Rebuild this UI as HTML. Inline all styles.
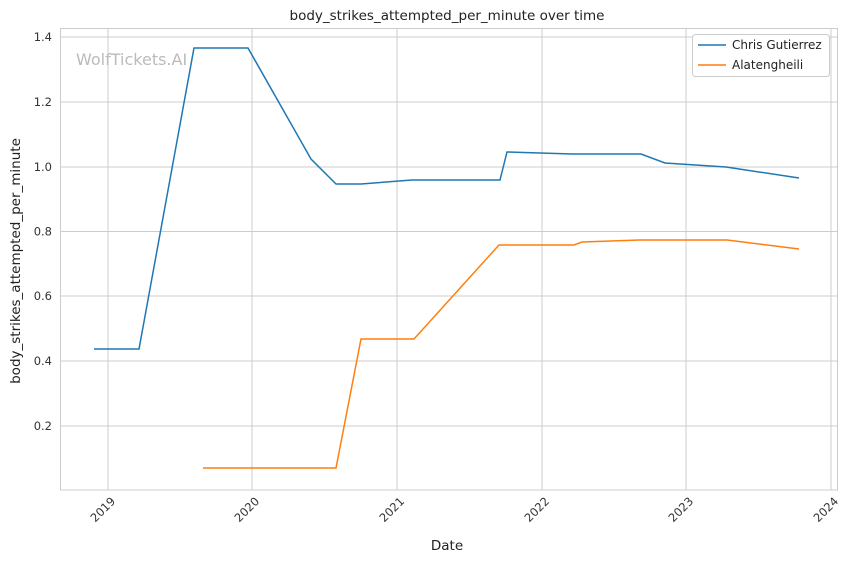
<!DOCTYPE html>
<html><head><meta charset="utf-8"><style>
html,body{margin:0;padding:0;background:#fff;}
svg{display:block;font-family:"DejaVu Sans","Liberation Sans",sans-serif;}
</style></head><body>
<svg width="856" height="561" viewBox="0 0 856 561" xmlns="http://www.w3.org/2000/svg">
<rect width="856" height="561" fill="#fff"/>
<g stroke="#cccccc" stroke-width="1">
<line x1="108" y1="28" x2="108" y2="490"/>
<line x1="252" y1="28" x2="252" y2="490"/>
<line x1="397" y1="28" x2="397" y2="490"/>
<line x1="542" y1="28" x2="542" y2="490"/>
<line x1="686" y1="28" x2="686" y2="490"/>
<line x1="831" y1="28" x2="831" y2="490"/>
<line x1="60" y1="37" x2="838" y2="37"/>
<line x1="60" y1="102" x2="838" y2="102"/>
<line x1="60" y1="167" x2="838" y2="167"/>
<line x1="60" y1="231.5" x2="838" y2="231.5"/>
<line x1="60" y1="296" x2="838" y2="296"/>
<line x1="60" y1="361" x2="838" y2="361"/>
<line x1="60" y1="426" x2="838" y2="426"/>
</g>
<rect x="60.5" y="28.5" width="777" height="461.5" fill="none" stroke="#cccccc" stroke-width="1"/>
<text x="76" y="65" font-size="16" fill="#bbbbbb">WolfTickets.AI</text>
<polyline fill="none" stroke="#1f77b4" stroke-width="1.5" points="94,349 139,349 194,48 248,48 311,159 336,184 361,184 412,180 500,180 507,152 572,154 641,154 665,163 726,167 799,178"/>
<polyline fill="none" stroke="#ff7f0e" stroke-width="1.5" points="203,468 336,468 361,339 414,339 499,245 574,245 582,242 640,240 727,240 799,249"/>
<g font-size="11.5" fill="#333" text-anchor="end">
<text x="52" y="41">1.4</text>
<text x="52" y="106">1.2</text>
<text x="52" y="171">1.0</text>
<text x="52" y="235.5">0.8</text>
<text x="52" y="300">0.6</text>
<text x="52" y="365">0.4</text>
<text x="52" y="430">0.2</text>
</g>
<g font-size="11.5" fill="#333" text-anchor="end">
<text transform="translate(116,502) rotate(-45)">2019</text>
<text transform="translate(260,502) rotate(-45)">2020</text>
<text transform="translate(405,502) rotate(-45)">2021</text>
<text transform="translate(550,502) rotate(-45)">2022</text>
<text transform="translate(694,502) rotate(-45)">2023</text>
<text transform="translate(839,502) rotate(-45)">2024</text>
</g>
<text x="447" y="550" font-size="13.5" fill="#222" text-anchor="middle">Date</text>
<text transform="translate(20,261) rotate(-90)" font-size="13.5" fill="#222" text-anchor="middle">body_strikes_attempted_per_minute</text>
<text x="447" y="20" font-size="13.5" fill="#222" text-anchor="middle">body_strikes_attempted_per_minute over time</text>
<rect x="692.5" y="34.5" width="137" height="42" rx="3" fill="#fff" stroke="#cccccc"/>
<line x1="698" y1="45" x2="726" y2="45" stroke="#1f77b4" stroke-width="1.5"/>
<line x1="698" y1="65" x2="726" y2="65" stroke="#ff7f0e" stroke-width="1.5"/>
<text x="732" y="49" font-size="12" fill="#222">Chris Gutierrez</text>
<text x="732" y="69" font-size="12" fill="#222">Alatengheili</text>
</svg>
</body></html>
